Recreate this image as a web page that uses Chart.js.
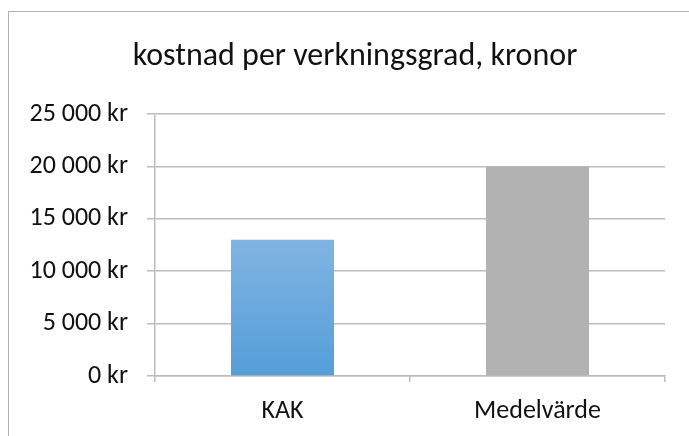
<!DOCTYPE html>
<html>
<head>
<meta charset="utf-8">
<script src="https://cdn.jsdelivr.net/npm/chart.js@4/dist/chart.umd.min.js"></script>
<style>
  html, body { margin: 0; padding: 0; background: #fff; }
  #wrap { position: relative; width: 689px; height: 436px; }
</style>
</head>
<body>
<div id="wrap"><canvas id="c" width="689" height="436"></canvas></div>
<script>
const titleText = 'kostnad per verkningsgrad, kronor';
const categories = ['KAK', 'Medelvärde'];
const values = [13000, 20000];
const yTickValues = [0, 5000, 10000, 15000, 20000, 25000];
const yTickLabels = ['0 kr', '5 000 kr', '10 000 kr', '15 000 kr', '20 000 kr', '25 000 kr'];

const FONT = "Carlito, Calibri, Lato, 'Open Sans', sans-serif";
const GRID = '#bcbcbc';

const frame = {
  id: 'frame',
  afterLayout(chart) {
    if (chart.titleBlock) chart.titleBlock.left = 45;
  },
  beforeDraw(chart) {
    const ctx = chart.ctx;
    ctx.save();
    ctx.fillStyle = '#fff';
    ctx.fillRect(0, 0, chart.width, chart.height);
    ctx.strokeStyle = '#b0b0b0';
    ctx.lineWidth = 1;
    ctx.beginPath();
    ctx.moveTo(8.5, chart.height + 2);
    ctx.lineTo(8.5, 11.5);
    ctx.lineTo(chart.width + 2, 11.5);
    ctx.stroke();
    ctx.restore();
  }
};

function barColor(context) {
  const chart = context.chart;
  const y = chart.scales.y;
  if (!y || !chart.chartArea) return '#5ea3dc';
  if (context.dataIndex === 0) {
    const top = y.getPixelForValue(values[0]);
    const bottom = y.getPixelForValue(0);
    const g = chart.ctx.createLinearGradient(0, top, 0, bottom);
    g.addColorStop(0, '#80b4e2');
    g.addColorStop(1, '#549ed8');
    return g;
  }
  return '#b2b2b2';
}

new Chart(document.getElementById('c'), {
  type: 'bar',
  data: {
    labels: categories,
    datasets: [{
      data: values,
      backgroundColor: barColor,
      borderWidth: 0,
      categoryPercentage: 1,
      barPercentage: 0.404
    }]
  },
  plugins: [frame],
  options: {
    responsive: false,
    animation: false,
    devicePixelRatio: 1,
    layout: { padding: { left: 0, right: 24, top: 0, bottom: 0 } },
    plugins: {
      legend: { display: false },
      tooltip: { enabled: false },
      title: {
        display: true,
        text: titleText,
        color: '#111',
        font: { family: FONT, size: 32, weight: 'normal', lineHeight: 1.2 },
        padding: { top: 38, bottom: 37.6 }
      }
    },
    scales: {
      x: {
        afterFit(scale) { scale.height = 60; },
        grid: { drawOnChartArea: false, drawTicks: true, tickLength: 6, color: GRID, lineWidth: 1.5, offset: true },
        border: { display: true, color: GRID, width: 1.5 },
        ticks: { color: '#111', padding: 14, font: { family: FONT, size: 26 } }
      },
      y: {
        min: 0, max: 25000,
        afterFit(scale) { scale.width = 155; },
        afterBuildTicks(scale) { scale.ticks = yTickValues.map(v => ({ value: v })); },
        grid: { color: GRID, lineWidth: 1.5, tickLength: 8, drawTicks: true },
        border: { display: true, color: GRID, width: 1.5 },
        ticks: {
          color: '#111', padding: 19,
          font: { family: FONT, size: 26 },
          callback(v) { return yTickLabels[yTickValues.indexOf(v)]; }
        }
      }
    }
  }
});
</script>
</body>
</html>
